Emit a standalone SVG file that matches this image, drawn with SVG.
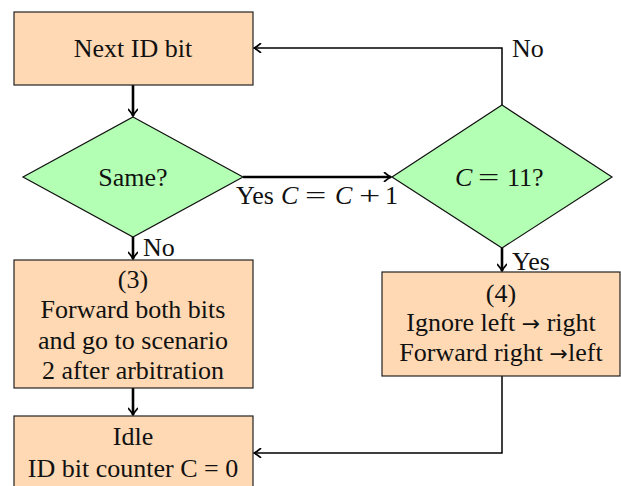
<svg xmlns="http://www.w3.org/2000/svg" width="621" height="486" viewBox="0 0 621 486">
  <style>
    .box { fill: #FFD9B3; stroke: #222; stroke-width: 1.2; }
    .dec { fill: #B3FFB3; stroke: #111; stroke-width: 1.2; }
    .t { font-family: "Liberation Serif", "Times New Roman", serif; font-size: 26px; fill: #111; }
    .c { text-anchor: middle; }
    .thick { fill: none; stroke: #000; stroke-width: 2.6; }
    .thin { fill: none; stroke: #000; stroke-width: 1.5; }
    .m { font-style: italic; }
    .ar { font-family: "DejaVu Sans", sans-serif; font-size: 22px; }
  </style>
  <defs>
    <marker id="arrow" viewBox="-8 -5 10 10" markerWidth="10" markerHeight="10" refX="0" refY="0" orient="auto" markerUnits="userSpaceOnUse">
      <path d="M -6.5,-4.5 Q -2.5,-1 0,0 Q -2.5,1 -6.5,4.5" fill="none" stroke="#000" stroke-width="1.7" stroke-linecap="round"/>
    </marker>
  </defs>

  <g id="connectors">
    <path class="thick" d="M133,85 V116" marker-end="url(#arrow)"/>
    <path class="thick" d="M243,177 H391" marker-end="url(#arrow)"/>
    <path class="thick" d="M133,237 V259" marker-end="url(#arrow)"/>
    <path class="thick" d="M502,248 V271" marker-end="url(#arrow)"/>
    <path class="thick" d="M133,388 V415" marker-end="url(#arrow)"/>
    <path class="thin" d="M502,105 V48 H254" marker-end="url(#arrow)"/>
    <path class="thin" d="M502,376 V453 H254" marker-end="url(#arrow)"/>
    <!-- edge label: Yes C = C + 1 (operators widened to math proportions) -->
    <g id="yes-label">
      <text class="t" y="204"><tspan x="236">Yes</tspan><tspan class="m" x="281">C</tspan><tspan class="m" x="335">C</tspan><tspan x="385">1</tspan></text>
      <text class="t" transform="translate(305,204) scale(1.45,1)">=</text>
      <text class="t" transform="translate(359,204) scale(1.45,1)">+</text>
    </g>
    <text class="t" x="143" y="256">No</text>
    <text class="t" x="512" y="57">No</text>
    <text class="t" x="512" y="270">Yes</text>
  </g>

  <g id="next-id-bit">
    <rect class="box" x="14" y="12" width="239" height="73"/>
    <text class="t c" x="133" y="57">Next ID bit</text>
  </g>

  <g id="same">
    <polygon class="dec" points="133,117 243,177 133,237 23,177"/>
    <text class="t c" x="133" y="186">Same?</text>
  </g>

  <g id="count-check">
    <polygon class="dec" points="502,105 612,177 502,248 392,177"/>
    <text class="t" y="186"><tspan class="m" x="455">C</tspan><tspan x="507">11?</tspan></text>
    <text class="t" transform="translate(478,186) scale(1.45,1)">=</text>
  </g>

  <g id="forward-both">
    <rect class="box" x="14" y="260" width="239" height="128"/>
    <text class="t c" x="133" y="288">(3)</text>
    <text class="t c" x="133" y="318">Forward both bits</text>
    <text class="t c" x="133" y="349">and go to scenario</text>
    <text class="t c" x="133" y="379">2 after arbitration</text>
  </g>

  <g id="ignore-left">
    <rect class="box" x="382" y="272" width="238" height="104"/>
    <text class="t c" x="501" y="302">(4)</text>
    <text class="t c" x="501" y="331">Ignore left <tspan class="ar">→</tspan> right</text>
    <text class="t c" x="501" y="361">Forward right <tspan class="ar">→</tspan>left</text>
  </g>

  <g id="idle">
    <rect class="box" x="14" y="416" width="239" height="80"/>
    <text class="t c" x="133" y="445">Idle</text>
    <text class="t c" x="133" y="477">ID bit counter C = 0</text>
  </g>
</svg>
